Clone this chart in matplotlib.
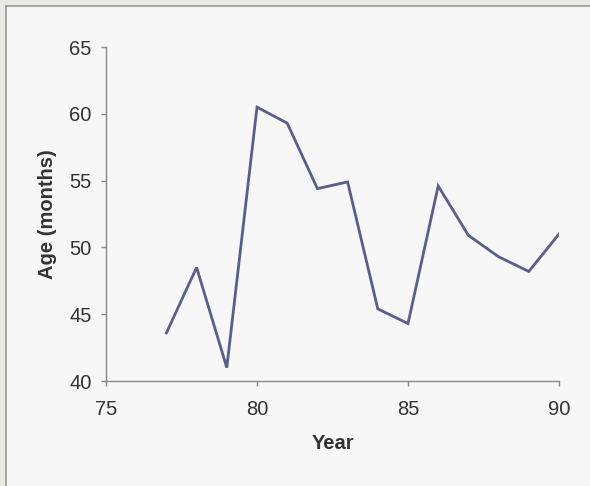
import matplotlib as mpl
from matplotlib import pyplot as plt
from matplotlib.lines import Line2D
from matplotlib.patches import Rectangle

years = [77, 78, 79, 80, 81, 82, 83, 84, 85, 86, 87, 88, 89, 90]
age_months = [43.6, 48.5, 41.0, 60.5, 59.3, 54.4, 54.9, 45.4, 44.3, 54.6, 50.9, 49.3, 48.2, 51.0]
xticks = [75, 80, 85, 90]
yticks = [40, 45, 50, 55, 60, 65]

text_color = (.2, .2, .2)
axis_color = '#8a8a84'
line_color = '#5a5e8e'

mpl.rcParams['font.family'] = ['Liberation Sans', 'DejaVu Sans']
mpl.rcParams['text.color'] = text_color
mpl.rcParams['xtick.color'] = axis_color
mpl.rcParams['ytick.color'] = axis_color


def plot():
    fig = plt.figure(figsize=(5.9, 4.86), dpi=100, facecolor='#e9e9e6')
    # paper area with the thin frame on top / left
    fig.add_artist(Rectangle((6 / 590, 0), 1, 1 - 6 / 486, transform=fig.transFigure,
                             facecolor='#f6f7f6', edgecolor='none', zorder=0))
    fig.add_artist(Line2D([6 / 590, 6 / 590], [0, 1 - 6 / 486], transform=fig.transFigure,
                          color='#9a9a96', lw=1.2))
    fig.add_artist(Line2D([6 / 590, 1], [1 - 6 / 486, 1 - 6 / 486], transform=fig.transFigure,
                          color='#9a9a96', lw=1.2))

    ax = fig.add_axes([106 / 590, 1 - 381 / 486, 453 / 590, 334 / 486])
    ax.set_facecolor('none')
    ax.plot(years, age_months, color=line_color, lw=2.0, solid_joinstyle='miter')

    ax.set_xlim(75, 90)
    ax.set_ylim(40, 65)
    ax.set_xticks(xticks)
    ax.set_yticks(yticks)
    for s in ['top', 'right']:
        ax.spines[s].set_visible(False)
    for s in ['left', 'bottom']:
        ax.spines[s].set_color(axis_color)
        ax.spines[s].set_linewidth(1.0)
    ax.tick_params(length=3.5, width=1.0, labelsize=14.5, labelcolor=text_color)
    ax.tick_params(axis='x', pad=10)
    ax.tick_params(axis='y', pad=7)

    ax.set_xlabel('Year', fontsize=14.5, fontweight='bold', labelpad=11, color=text_color)
    ax.set_ylabel('Age (months)', fontsize=14.5, fontweight='bold', labelpad=9, color=text_color)
    return fig


if __name__ == '__main__':
    fig = plot()
    fig.savefig('out.png', dpi=100, facecolor=fig.get_facecolor())
